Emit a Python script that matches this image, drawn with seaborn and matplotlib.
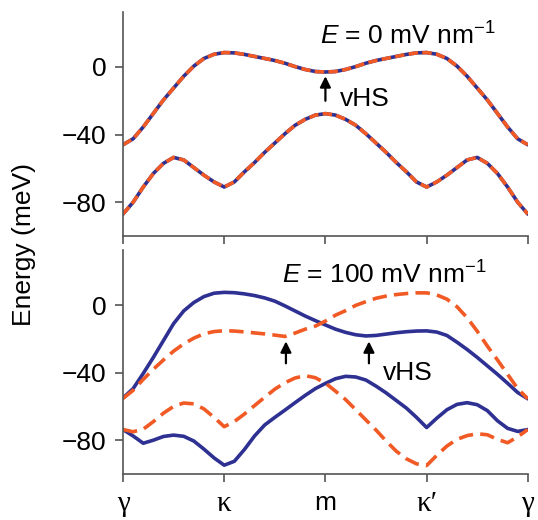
import numpy as np
import pandas as pd
import matplotlib
matplotlib.use("Agg")
import matplotlib.pyplot as plt
import seaborn as sns

# path coordinate along gamma-kappa-m-kappa'-gamma (41 samples)
k = np.linspace(0, 4, 41)

# E = 0 mV/nm : both valleys coincide
top_upper = [-46, -42.5, -35.5, -27.5, -19.5, -12.5, -5.5, 0.5, 5, 7.5, 8.5,
             8.3, 7.4, 6.2, 5, 3.8, 2.2, 0.2, -1.5, -2.7, -3,
             -2.7, -1.5, 0.2, 2.2, 3.8, 5, 6.2, 7.4, 8.3, 8.5,
             7.5, 5, 0.5, -5.5, -12.5, -19.5, -27.5, -35.5, -42.5, -46]
top_lower = [-87, -80, -71, -63, -57, -53.5, -55, -59.5, -64, -68, -71,
             -68, -62, -56.5, -50.5, -45, -39.5, -34.5, -31, -28.5, -27.6,
             -28.5, -31, -34.5, -39.5, -45, -50.5, -56.5, -62, -68, -71,
             -68, -64, -59.5, -55, -53.5, -57, -63, -71, -80, -87]

# E = 100 mV/nm
blue_upper = [-55, -49.5, -40.5, -31, -21, -11, -3.5, 1.5, 5, 7, 7.5,
              7.3, 6.6, 5.6, 4.2, 2.3, -0.5, -3.5, -6.5, -9.2, -11.8,
              -14.3, -16.2, -17.6, -18.3, -18, -17.2, -16.4, -15.8, -15.4, -15.3,
              -16, -18, -22, -26.3, -31, -36, -41, -46.3, -51.8, -55.5]
orange_upper = [-55.3, -50.5, -44, -38, -32.5, -27.3, -23, -19.6, -17, -15.7, -15.2,
                -15.4, -15.9, -16.5, -17.1, -17.8, -18.6, -16.6, -14.3, -12.5, -9.5,
                -6, -3.3, -0.2, 2, 4, 5.3, 6.2, 6.8, 7.2, 7.2,
                6, 3.5, -1, -7.5, -15.5, -24.3, -32.5, -41, -49.5, -55.5]
blue_lower = [-73.7, -77.5, -81.8, -80, -77.8, -77, -77.7, -80.5, -85.3, -90.5, -94.8,
              -92.5, -85.5, -77.5, -71, -66.5, -62.2, -57.8, -53.5, -49.5, -46.4,
              -43.6, -42.2, -42.6, -44.4, -48, -52, -56.5, -61, -66.5, -72.5,
              -67, -62, -58.8, -57.8, -59, -62.5, -68.5, -73, -74.8, -73.7]
orange_lower = [-73.7, -75, -73.5, -69, -64, -60, -58, -58.5, -61.5, -66.5, -72,
                -69, -64.5, -59.5, -54.6, -49.8, -46, -43.2, -41.8, -43, -46.2,
                -51, -56, -62, -68, -74, -80.5, -86.5, -91, -94, -95,
                -89, -83.5, -79.5, -77.3, -76.2, -76.8, -79.5, -81.5, -78, -73.7]

tick_pos = [0, 1, 2, 3, 4]
tick_labels = ["\u03b3", "\u03ba", "m", "\u03ba\u2032", "\u03b3"]

blue = "#2e3192"
orange = "#f15a24"

sns.set_style("ticks")
plt.rcParams["font.family"] = ["Liberation Sans", "DejaVu Sans"]
plt.rcParams["mathtext.fontset"] = "custom"
plt.rcParams["mathtext.rm"] = "Liberation Sans"
plt.rcParams["mathtext.it"] = "Liberation Sans:italic"
plt.rcParams["font.size"] = 19
plt.rcParams["text.color"] = "black"
plt.rcParams["xtick.labelcolor"] = "black"
plt.rcParams["ytick.labelcolor"] = "black"

df_top = pd.DataFrame({"k": k, "upper": top_upper, "lower": top_lower})
df_bot = pd.DataFrame({"k": k, "bu": blue_upper, "ou": orange_upper,
                       "bl": blue_lower, "ol": orange_lower})

fig = plt.figure(figsize=(5.38, 5.2), dpi=100)
ax1 = fig.add_axes([0.2286, 0.546, 0.7525, 0.431])
ax2 = fig.add_axes([0.2286, 0.0885, 0.7525, 0.4305])

lw = 2.6
dash_top = (0, (2.6, 1.2))
dash_bot = (0, (4.0, 2.0))
for col in ["upper", "lower"]:
    sns.lineplot(data=df_top, x="k", y=col, color=blue, lw=lw, estimator=None, ax=ax1)
    sns.lineplot(data=df_top, x="k", y=col, color=orange, lw=lw, ls=dash_top,
                 estimator=None, ax=ax1)
for col in ["bu", "bl"]:
    sns.lineplot(data=df_bot, x="k", y=col, color=blue, lw=lw, estimator=None, ax=ax2)
for col in ["ou", "ol"]:
    sns.lineplot(data=df_bot, x="k", y=col, color=orange, lw=lw, ls=dash_bot,
                 estimator=None, ax=ax2)

for ax in (ax1, ax2):
    ax.set_xlim(0, 4)
    ax.set_ylim(-100, 32.5)
    ax.set_yticks([-80, -40, 0])
    ax.set_yticklabels(["\u221280", "\u221240", "0"])
    ax.set_xticks(tick_pos)
    ax.set_xlabel("")
    ax.set_ylabel("")
    sns.despine(ax=ax)
    for s in ("left", "bottom"):
        ax.spines[s].set_color("#555555")
        ax.spines[s].set_linewidth(1.2)
    ax.tick_params(length=6, width=1.2, color="#555555", pad=6, labelsize=19,
                   labelcolor="black")

ax1.set_xticklabels([])
ax2.set_xticklabels(tick_labels)
# greek path labels are set in a serif face, like the original
for lab in ax2.get_xticklabels():
    if lab.get_text() != "m":
        lab.set_family(["Liberation Serif", "DejaVu Serif"])
        lab.set_fontsize(21)

arrow = dict(arrowstyle="-|>", color="black", lw=1.6, mutation_scale=16,
             shrinkA=0, shrinkB=0)
ax1.annotate("", xy=(2.0, -5.5), xytext=(2.0, -20), arrowprops=arrow)
ax1.text(2.14, -19, "vHS", ha="left", va="center", fontsize=19)
ax1.text(3.68, 18, "$E$ = 0 mV nm$^{\u22121}$", ha="right", va="center", fontsize=19)

ax2.annotate("", xy=(1.61, -21.5), xytext=(1.61, -34.5), arrowprops=arrow)
ax2.annotate("", xy=(2.43, -21.5), xytext=(2.43, -34.5), arrowprops=arrow)
ax2.text(2.57, -40.5, "vHS", ha="left", va="center", fontsize=19)
ax2.text(3.6, 18, "$E$ = 100 mV nm$^{\u22121}$", ha="right", va="center", fontsize=19)

fig.text(0.045, 0.53, "Energy (meV)", rotation=90, ha="center", va="center",
         fontsize=19, color="black")

fig.savefig("out.png", dpi=100)
